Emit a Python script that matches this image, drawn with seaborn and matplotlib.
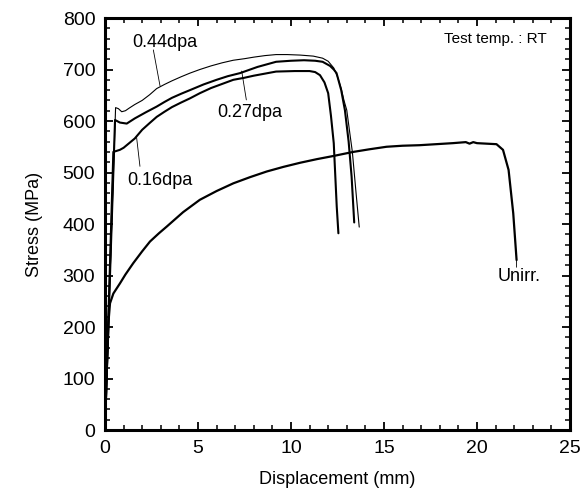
import pandas as pd
import matplotlib.pyplot as plt
import seaborn as sns

unirr_x = [0, 0.1, 0.2, 0.27, 0.45, 0.81, 1.1, 1.52, 2.0, 2.42, 2.9, 3.32, 4.2, 5.1,
           6.0, 6.9, 7.8, 8.7, 9.6, 10.5, 11.4, 12.27, 13.35, 14.2, 15.14, 16.0,
           16.9, 17.8, 18.7, 19.4, 19.6, 19.8, 20.0, 21.05, 21.4, 21.7, 21.95, 22.13]
unirr_y = [0, 120, 215, 246, 265, 285, 302, 324, 347, 366, 382, 395, 423, 447,
           464, 479, 491, 502, 511, 519, 526, 532, 540, 545, 550, 552,
           553, 555, 557, 559, 556, 559, 557, 555, 544, 505, 421, 330]

d044_x = [0, 0.57, 0.72, 0.9, 1.1, 1.3, 1.6, 2.0, 2.4, 2.78, 3.2, 3.6, 4.1, 4.57,
          5.1, 5.7, 6.3, 6.9, 7.5, 8.0, 8.6, 9.2, 9.8, 10.5, 11.2, 11.7, 12.0,
          12.3, 12.5, 12.7, 12.85, 13.0, 13.15, 13.3, 13.5, 13.67]
d044_y = [0, 626, 624, 618, 620, 625, 632, 640, 651, 663, 671, 678, 686, 693,
          700, 707, 713, 718, 721, 724, 727, 729, 729, 728, 726, 722, 716,
          703, 686, 663, 640, 621, 580, 540, 460, 394]

d027_x = [0, 0.54, 0.8, 1.17, 1.6, 2.2, 2.78, 3.2, 3.6, 4.1, 4.57, 5.3, 6.0, 6.6,
          7.26, 8.2, 9.2, 10.0, 10.7, 11.3, 11.7, 12.1, 12.3, 12.45, 12.7, 12.9,
          13.1, 13.26, 13.4]
d027_y = [0, 602, 597, 595, 605, 617, 628, 637, 645, 653, 660, 671, 680, 687,
          693, 705, 715, 717, 718, 717, 715, 707, 700, 693, 660, 621,
          560, 492, 403]

d016_x = [0, 0.45, 0.8, 1.0, 1.3, 1.6, 2.0, 2.4, 2.78, 3.2, 3.6, 4.1, 4.57, 5.1,
          5.7, 6.3, 6.9, 7.5, 8.0, 8.6, 9.2, 10.2, 11.0, 11.3, 11.56, 11.8, 12.0,
          12.15, 12.3, 12.46, 12.55]
d016_y = [0, 540, 544, 548, 557, 566, 583, 596, 608, 618, 627, 636, 644, 654,
          664, 672, 680, 684, 688, 692, 696, 697, 697, 695, 689, 675, 654,
          610, 557, 434, 382]

sns.set_theme(style="ticks")
plt.rcParams['font.family'] = ['Liberation Sans', 'DejaVu Sans']
plt.rcParams.update({'text.color': 'black', 'axes.labelcolor': 'black',
                     'xtick.color': 'black', 'ytick.color': 'black'})

fig = plt.figure(figsize=(5.81, 4.92), dpi=100)
ax = fig.add_axes([0.1807, 0.126, 0.8003, 0.8374])

curves = [(unirr_x, unirr_y, 1.6), (d016_x, d016_y, 1.5),
          (d027_x, d027_y, 1.5), (d044_x, d044_y, 0.8)]
for xs, ys, lw in curves:
    df = pd.DataFrame({'x': xs, 'y': ys})
    sns.lineplot(data=df, x='x', y='y', sort=False, estimator=None,
                 color='black', lw=lw, ax=ax)

ax.set_xlim(0, 25)
ax.set_ylim(0, 800)
ax.set_xticks(range(0, 26, 5))
ax.set_yticks(range(0, 801, 100))
ax.set_xticks(range(0, 26, 1), minor=True)
ax.set_yticks(range(0, 801, 20), minor=True)
ax.tick_params(which='both', direction='in', top=True, right=True)
ax.tick_params(which='major', length=6, width=1.3, labelsize=14, pad=7)
ax.tick_params(which='minor', length=3.5, width=1.1)
for s in ax.spines.values():
    s.set_linewidth(2.2)
    s.set_color('black')

ax.set_xlabel('Displacement (mm)', fontsize=13, labelpad=10)
ax.set_ylabel('Stress (MPa)', fontsize=13, labelpad=14)

# curve labels with leader lines
line_kw = dict(arrowstyle='-', lw=0.6, color='black', shrinkA=0, shrinkB=0)
ax.annotate('', xy=(2.96, 668), xytext=(2.6, 738), arrowprops=line_kw)
ax.text(3.2, 752, '0.44dpa', fontsize=13, ha='center', va='center')
ax.annotate('', xy=(7.35, 697), xytext=(7.6, 641), arrowprops=line_kw)
ax.text(7.8, 616, '0.27dpa', fontsize=13, ha='center', va='center')
ax.annotate('', xy=(1.7, 568), xytext=(1.88, 512), arrowprops=line_kw)
ax.text(2.96, 485, '0.16dpa', fontsize=13, ha='center', va='center')
ax.annotate('', xy=(22.13, 330), xytext=(22.13, 316), arrowprops=line_kw)
ax.text(22.25, 298, 'Unirr.', fontsize=13, ha='center', va='center')
ax.text(21.0, 760, 'Test temp. : RT', fontsize=11, ha='center', va='center')

plt.savefig('out.png', dpi=100)
